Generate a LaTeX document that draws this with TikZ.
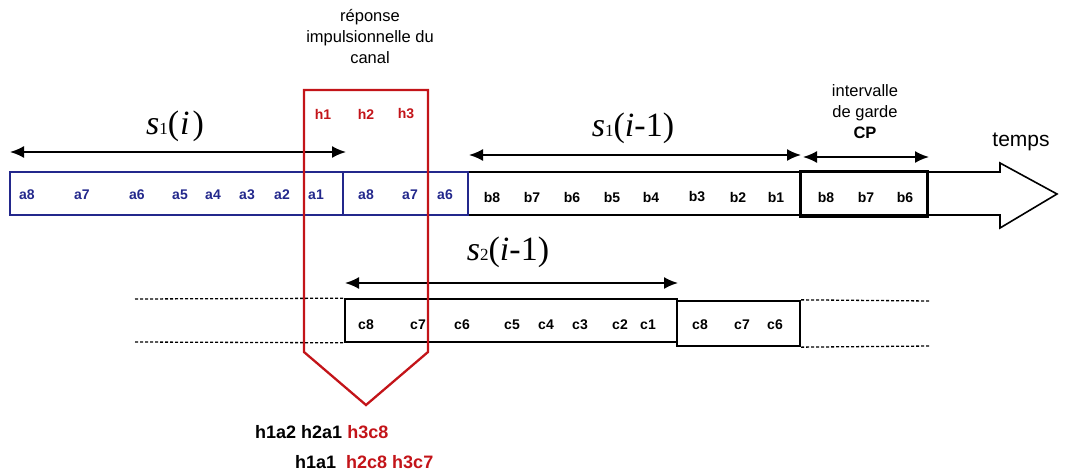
\documentclass[tikz,border=0pt]{standalone}
\usepackage{fontspec}
\setmainfont{Liberation Sans}
\newfontfamily\serif{Liberation Serif}
\usetikzlibrary{arrows.meta}
\definecolor{navy}{RGB}{35,40,140}
\definecolor{dred}{RGB}{195,20,25}
\tikzset{
  lbl/.style={font=\fontsize{14}{16}\selectfont\bfseries, inner sep=0pt},
  alb/.style={lbl, text=navy},
  rlb/.style={lbl, text=dred},
  bluebox/.style={draw=navy, line width=1.6pt, inner sep=0pt},
  blackbox/.style={draw=black, line width=1.6pt, inner sep=0pt},
  thickbox/.style={draw=black, line width=2.3pt, inner sep=0pt},
  span/.style={{Latex[length=14pt,width=12pt]}-{Latex[length=14pt,width=12pt]}, line width=1.8pt},
  dashline/.style={line width=1.3pt, dash pattern=on 3pt off 2pt},
  sig/.style={font=\serif\fontsize{34}{36}\selectfont, inner sep=0pt},
  note/.style={font=\fontsize{16.5}{21}\selectfont, align=center, inner sep=0pt},
  big/.style={font=\fontsize{18}{20}\selectfont\bfseries, inner sep=0pt}
}
\newcommand{\sub}[1]{{\fontsize{17}{17}\selectfont #1}}
\begin{document}
\begin{tikzpicture}[x=1pt,y=-1pt]
\useasboundingbox (0,0) rectangle (1065,474);
% big time arrow (shaft + head)
\draw[line width=1.6pt] (468,172) -- (1000,172) -- (1000,163) -- (1057,194) -- (1000,228) -- (1000,215) -- (468,215) -- cycle;
% boxes
\node[bluebox, minimum width=333pt, minimum height=43pt] (A) at (176.5,193.5) {};
\node[bluebox, minimum width=125pt, minimum height=43pt] (A2) at (405.5,193.5) {};
\node[thickbox, minimum width=127pt, minimum height=45pt] (CP) at (864,194) {};
\node[blackbox, minimum width=332pt, minimum height=43pt] (C) at (511,320.5) {};
\node[thickbox, minimum width=123pt, minimum height=45pt] (C2) at (738.5,323.5) {};
% dashed guide lines
\coordinate (dl1) at (135,299);
\coordinate (dl2) at (135,342);
\coordinate (dr1) at (930,301);
\coordinate (dr2) at (930,346);
\draw[dashline] (dl1) -- (C.north west);
\draw[dashline] (dl2) -- (C.south west);
\draw[dashline] (C2.north east) -- (dr1);
\draw[dashline] (C2.south east) -- (dr2);
% a labels
\foreach \t/\x in {a8/27,a7/82,a6/137,a5/180,a4/213,a3/247,a2/282,a1/316,a8/366,a7/410,a6/445}
  \node[alb] (a-\x) at (\x,195) {\t};
% b labels
\foreach \t/\x in {b8/492,b7/532,b6/572,b5/612,b4/651,b3/697,b2/738,b1/776,b8/826,b7/866,b6/905}
  \node[lbl] (b-\x) at (\x,197) {\t};
% c labels
\foreach \t/\x in {c8/366,c7/418,c6/462,c5/512,c4/546,c3/580,c2/620,c1/648,c8/700,c7/742,c6/775}
  \node[lbl] (c-\x) at (\x,325) {\t};
% span arrows
\coordinate (s1L) at (10,152);  \coordinate (s1R) at (346,152);
\coordinate (s2L) at (469,155); \coordinate (s2R) at (801,155);
\coordinate (cpL) at (803,157); \coordinate (cpR) at (929,157);
\coordinate (s3L) at (345,283); \coordinate (s3R) at (678,283);
\draw[span] (s1L) -- (s1R);
\draw[span] (s2L) -- (s2R);
\draw[span] (cpL) -- (cpR);
\draw[span] (s3L) -- (s3R);
% signal names
\node[sig, anchor=base] (n1) at (175,134) {\textit{s}\sub{1}(\kern1pt\textit{i}\kern3pt)};
\node[sig, anchor=base] (n2) at (633,136) {\textit{s}\sub{1}(\textit{i}-1)};
\node[sig, anchor=base] (n3) at (508,260) {\textit{s}\sub{2}(\textit{i}-1)};
% texts
\node[note] (rep) at (370,37) {réponse\\impulsionnelle du\\canal};
\node[note] (ig) at (865,112) {intervalle\\de garde\\\textbf{CP}};
\node[font=\fontsize{21}{22}\selectfont, inner sep=0pt, anchor=base] (tm) at (1021,146) {temps};
% channel response (red)
\node[rlb] (h1) at (323,114) {h1};
\node[rlb] (h2) at (366,114) {h2};
\node[rlb] (h3) at (406,114) {h3};
\draw[dred, line width=2.3pt, line join=miter] (304,352) -- (304,90) -- (428,90) -- (428,352) -- (366,405) -- cycle;
% results
\node[big, anchor=base west] (r1) at (255,438) {h1a2 h2a1 \textcolor{dred}{h3c8}};
\node[big, anchor=base west] (r2) at (295,468) {h1a1\ \ \textcolor{dred}{h2c8 h3c7}};
\end{tikzpicture}
\end{document}
